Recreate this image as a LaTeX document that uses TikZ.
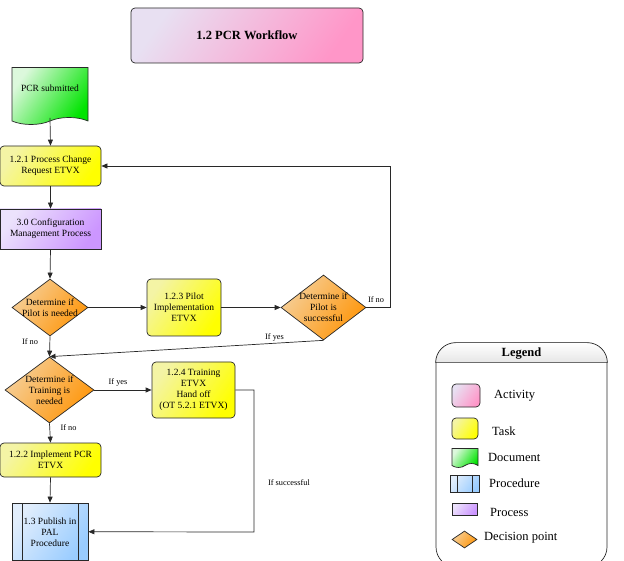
\documentclass[tikz,border=0pt]{standalone}
\usepackage{fontspec}
\setmainfont{Liberation Serif}
\usetikzlibrary{arrows.meta,shapes,positioning}
\definecolor{actpink}{RGB}{255,150,200}
\definecolor{actlt}{RGB}{232,224,242}
\definecolor{taskyel}{RGB}{255,255,0}
\definecolor{tasklt}{RGB}{244,244,165}
\definecolor{docgrn}{RGB}{0,228,0}
\definecolor{doclt}{RGB}{220,248,220}
\definecolor{pubblue}{RGB}{153,204,255}
\definecolor{publt}{RGB}{226,238,252}
\definecolor{prcpurple}{RGB}{204,150,255}
\definecolor{prclt}{RGB}{236,226,252}
\definecolor{decorange}{RGB}{255,150,10}
\definecolor{declt}{RGB}{246,206,150}
\definecolor{edge}{RGB}{40,40,40}

\begin{document}
\begin{tikzpicture}[x=1pt,y=-1pt,
  shadeit/.style 2 args={left color=#1,middle color=#2,right color=#2,shading angle=55},
  txt/.style={font=\fontsize{9.5}{11}\selectfont,align=center,text=black},
  lbl/.style={font=\fontsize{8.3}{10}\selectfont,inner sep=1pt},
  legtxt/.style={font=\fontsize{12.5}{14}\selectfont,anchor=west,inner sep=0pt},
  actnode/.style={rectangle,rounded corners=4pt,draw=edge,line width=0.7pt,shadeit={actlt}{actpink}},
  tasknode/.style={rectangle,rounded corners=4pt,draw=edge,line width=0.7pt,txt,shadeit={tasklt}{taskyel}},
  prcnode/.style={rectangle,draw=edge,line width=0.7pt,txt,shadeit={prclt}{prcpurple}},
  docnode/.style={tape,tape bend top=none,tape bend bottom=in and out,draw=edge,line width=0.7pt,txt,shadeit={doclt}{docgrn}},
  decnode/.style={diamond,draw=edge,line width=0.7pt,inner sep=0pt,shadeit={declt}{decorange}},
  pubnode/.style={rectangle,draw=edge,line width=0.7pt,txt,shadeit={publt}{pubblue},
    path picture={\draw[edge,line width=0.7pt] ([xshift=#1]path picture bounding box.north west) -- ([xshift=#1]path picture bounding box.south west);
                  \draw[edge,line width=0.7pt] ([xshift=-#1]path picture bounding box.north east) -- ([xshift=-#1]path picture bounding box.south east);}},
  arr/.style={-{Triangle[length=6pt,width=5pt]},draw=edge,line width=0.7pt}]
\clip (0,0) rectangle (624,561);

% workflow
\node[actnode,minimum width=232pt,minimum height=55pt,font=\bfseries\fontsize{12.5}{14}\selectfont] (title) at (247,35.5) {1.2 PCR Workflow};
\node[docnode,minimum width=76pt,minimum height=57pt,tape bend height=7pt,text depth=8pt] (doc) at (50,92.5) {PCR submitted};
\node[tasknode,minimum width=101pt,minimum height=40pt] (t121) at (50.5,166) {1.2.1 Process Change\\Request ETVX};
\node[prcnode,minimum width=101pt,minimum height=40pt] (p30) at (50.5,229) {3.0 Configuration\\Management Process};
\node[decnode,minimum width=76pt,minimum height=57pt,label={[txt]center:Determine if\\Pilot is needed}] (dpilot) at (50,307.5) {};
\node[tasknode,minimum width=74pt,minimum height=57pt] (t123) at (184,307.5) {1.2.3 Pilot\\Implementation\\ETVX};
\node[decnode,minimum width=85pt,minimum height=65pt,label={[txt]center:Determine if\\Pilot is\\successful}] (dsucc) at (323.5,307.5) {};
\node[decnode,minimum width=89pt,minimum height=66pt,label={[txt]center:Determine if\\Training is\\needed}] (dtrain) at (49.5,390) {};
\node[tasknode,minimum width=83pt,minimum height=56pt] (t124) at (193.5,390) {1.2.4 Training\\ETVX\\Hand off\\(OT 5.2.1 ETVX)};
\node[tasknode,minimum width=101pt,minimum height=34pt] (t122) at (50.5,460) {1.2.2 Implement PCR\\ETVX};
\node[pubnode=10pt,minimum width=76pt,minimum height=57.5pt] (pub) at (50,531.75) {1.3 Publish in\\PAL\\Procedure};

\coordinate (loopR) at (390,166);
\coordinate (succR) at (254,532);

\draw[arr] (doc.south) -- (t121.north);
\draw[arr] (t121.south) -- (p30.north);
\draw[arr] (p30.south) -- (dpilot.north);
\draw[arr] (dpilot.east) -- (t123.west);
\draw[arr] (t123.east) -- (dsucc.west);
\draw[arr] (dsucc.east) -| (loopR) -- (t121.east);
\draw[arr] (dsucc.south) -- (dtrain.north);
\draw[arr] (dpilot.south) -- (dtrain.north);
\draw[arr] (dtrain.east) -- (t124.west);
\draw[arr] (dtrain.south) -- (t122.north);
\draw[arr] (t122.south) -- (pub.north);
\draw[arr] (t124.east) -| (succR) -- (pub.east);

\node[lbl] (lno1) at (376,300) {If no};
\node[lbl] (lyes1) at (274.5,337) {If yes};
\node[lbl] (lno2) at (30,342) {If no};
\node[lbl] (lyes2) at (118,382) {If yes};
\node[lbl] (lno3) at (68.5,428) {If no};
\node[lbl] (lsucc) at (289,483) {If successful};

% legend
\node[draw=edge,line width=0.7pt,rounded corners=20pt,minimum width=171pt,minimum height=224pt] (legend) at (521.5,455) {};
\shadedraw[top color=white,bottom color=black!10,draw=edge,line width=0.7pt]
  ([yshift=-20pt]legend.north west) [rounded corners=20pt] -- (legend.north west) -- (legend.north east) [sharp corners] -- ([yshift=-20pt]legend.north east) -- cycle;
\node[font=\bfseries\fontsize{12.5}{14}\selectfont] (legtitle) at (521.5,353.5) {Legend};

\node[actnode,minimum width=28pt,minimum height=23pt] (lgact) at (466,395.5) {};
\node[legtxt] (lgacttxt) at (494,395.5) {Activity};
\node[tasknode,minimum width=26pt,minimum height=21pt] (lgtask) at (465,428.5) {};
\node[legtxt] (lgtasktxt) at (492,431) {Task};
\node[docnode,minimum width=26pt,minimum height=19pt,tape bend height=4pt] (lgdoc) at (465,456) {};
\node[legtxt] (lgdoctxt) at (488,457) {Document};
\node[pubnode=7pt,minimum width=29pt,minimum height=17pt] (lgpub) at (464.5,483.5) {};
\node[legtxt] (lgpubtxt) at (489,483) {Procedure};
\node[prcnode,minimum width=25pt,minimum height=12pt] (lgprc) at (464.5,509) {};
\node[legtxt] (lgprctxt) at (490,512) {Process};
\node[decnode,minimum width=25pt,minimum height=17pt] (lgdec) at (464.5,539.5) {};
\node[legtxt] (lgdectxt) at (484,538) {Decision point};
\end{tikzpicture}
\end{document}
